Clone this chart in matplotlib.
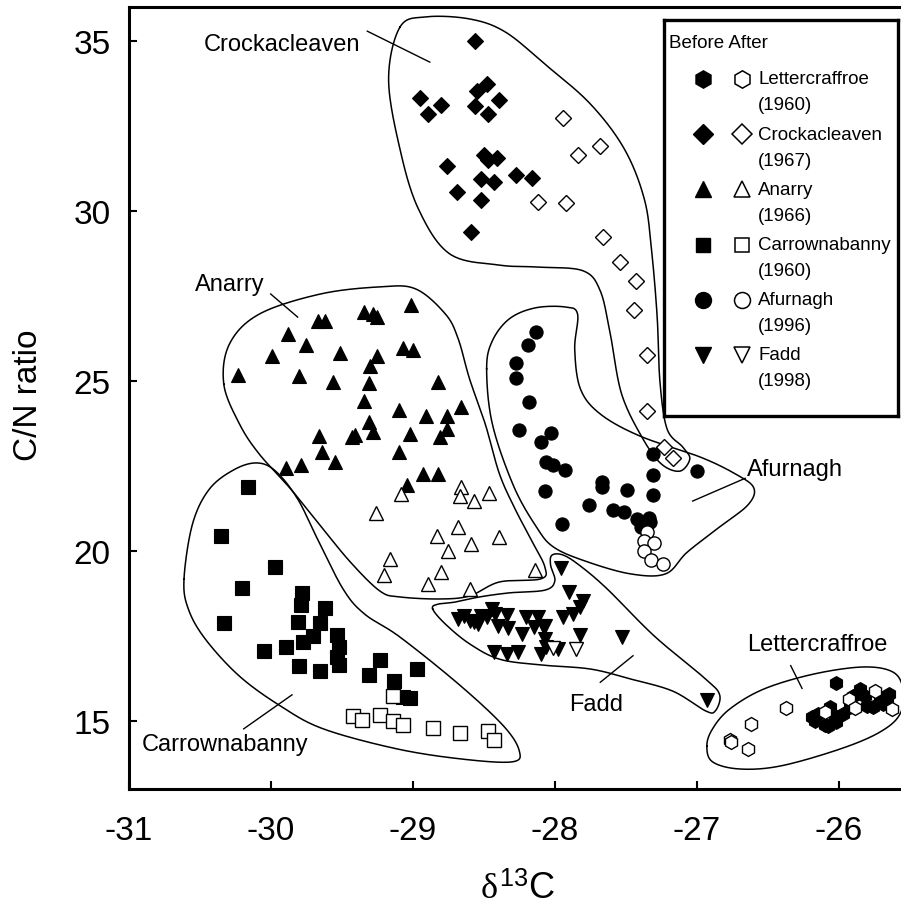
import numpy as np
import matplotlib
matplotlib.use('Agg')
import matplotlib.pyplot as plt

plt.rcParams['font.family'] = ['Liberation Sans', 'DejaVu Sans']
plt.rcParams['mathtext.fontset'] = 'custom'
plt.rcParams['mathtext.rm'] = 'Liberation Sans'
plt.rcParams['mathtext.it'] = 'Liberation Serif'
plt.rcParams['axes.unicode_minus'] = False

# ---------------- data ----------------
sites = ['Lettercraffroe', 'Crockacleaven', 'Anarry', 'Carrownabanny', 'Afurnagh', 'Fadd']
years = ['(1960)', '(1967)', '(1966)', '(1960)', '(1996)', '(1998)']
markers = ['h', 'D', '^', 's', 'o', 'v']

lett_before_x = [-26.02, -26.17, -26.10, -26.03, -25.97, -25.92, -25.85, -25.82, -25.76, -25.69,
                 -25.65, -26.06, -25.90, -25.71, -26.08, -26.19, -26.15, -25.80, -25.66, -26.02]
lett_before_y = [16.10, 15.00, 14.87, 15.15, 15.20, 15.39, 15.93, 15.72, 15.39, 15.49,
                 15.79, 15.39, 15.74, 15.69, 14.85, 15.10, 15.20, 15.44, 15.59, 14.95]
lett_after_x = [-26.37, -26.62, -26.77, -26.76, -26.64, -26.10, -25.93, -25.89, -25.75, -25.63]
lett_after_y = [15.36, 14.90, 14.44, 14.36, 14.17, 15.26, 15.64, 15.36, 15.88, 15.34]

crock_before_x = [-28.56, -28.95, -28.80, -28.89, -28.48, -28.55, -28.39, -28.56, -28.47, -28.50,
                  -28.41, -28.76, -28.52, -28.43, -28.27, -28.16, -28.69, -28.52, -28.59, -28.47]
crock_before_y = [34.98, 33.32, 33.11, 32.84, 33.73, 33.53, 33.26, 33.07, 32.84, 31.64,
                  31.54, 31.32, 30.93, 30.85, 31.06, 30.95, 30.56, 30.32, 29.36, 31.50]
crock_after_x = [-27.94, -27.68, -27.84, -28.12, -27.92, -27.66, -27.54, -27.43, -27.44, -27.35,
                 -27.35, -27.23, -27.17]
crock_after_y = [32.73, 31.91, 31.64, 30.25, 30.23, 29.22, 28.48, 27.92, 27.09, 25.76,
                 24.10, 23.04, 22.72]

anarry_before_x = [-29.01, -29.34, -29.25, -29.67, -29.62, -29.88, -29.75, -29.99, -29.51, -29.25,
                   -29.30, -29.07, -29.00, -30.23, -29.80, -29.56, -29.31, -28.82, -29.34, -29.10,
                   -28.91, -28.76, -28.66, -29.31, -29.28, -28.76, -28.81, -29.02, -29.66, -29.43,
                   -29.41, -29.10, -29.64, -29.55, -29.89, -29.79, -28.93, -28.82, -29.04, -29.28]
anarry_before_y = [27.23, 27.01, 26.86, 26.76, 26.75, 26.37, 26.05, 25.74, 25.81, 25.74,
                   25.42, 25.95, 25.90, 25.17, 25.13, 24.95, 24.92, 24.95, 24.41, 24.15,
                   23.97, 23.95, 24.22, 23.79, 23.50, 23.58, 23.35, 23.43, 23.38, 23.34,
                   23.40, 22.91, 22.91, 22.62, 22.43, 22.53, 22.26, 22.26, 21.94, 26.95]
anarry_after_x = [-28.66, -28.67, -28.57, -28.46, -29.08, -29.26, -28.68, -28.83, -28.59, -28.39,
                  -28.75, -29.16, -29.20, -28.80, -28.89, -28.60, -28.14]
anarry_after_y = [21.86, 21.60, 21.47, 21.70, 21.67, 21.11, 20.69, 20.44, 20.20, 20.39,
                  19.98, 19.76, 19.29, 19.36, 19.02, 18.87, 19.43]

carr_before_x = [-30.16, -30.35, -29.97, -30.20, -30.33, -29.78, -29.79, -29.62, -29.81, -29.65,
                 -29.77, -29.70, -29.53, -29.52, -29.53, -29.52, -29.89, -30.05, -29.80, -29.65,
                 -29.23, -29.31, -29.13, -28.97, -29.07, -29.02]
carr_before_y = [21.86, 20.42, 19.53, 18.90, 17.86, 18.75, 18.41, 18.31, 17.89, 17.86,
                 17.32, 17.48, 17.52, 17.16, 16.86, 16.64, 17.16, 17.04, 16.62, 16.47,
                 16.79, 16.34, 16.16, 16.52, 15.71, 15.67]
carr_after_x = [-29.14, -29.42, -29.36, -29.23, -29.14, -29.07, -28.86, -28.67, -28.47, -28.43]
carr_after_y = [15.74, 15.13, 15.03, 15.18, 15.00, 14.87, 14.79, 14.63, 14.71, 14.44]

afur_before_x = [-28.13, -28.19, -28.27, -28.27, -28.18, -28.25, -28.03, -28.10, -28.06, -28.01,
                 -27.93, -28.07, -27.95, -27.76, -27.67, -27.67, -27.49, -27.31, -27.31, -27.31,
                 -27.00, -27.59, -27.51, -27.42, -27.34, -27.39, -27.33]
afur_before_y = [26.42, 26.06, 25.51, 25.07, 24.38, 23.56, 23.46, 23.21, 22.60, 22.53,
                 22.38, 21.76, 20.79, 21.35, 22.03, 21.86, 21.79, 22.84, 22.23, 21.65,
                 22.33, 21.21, 21.15, 20.93, 20.95, 20.69, 20.83]
afur_after_x = [-27.35, -27.37, -27.30, -27.37, -27.32, -27.24]
afur_after_y = [20.54, 20.29, 20.23, 19.98, 19.74, 19.61]

fadd_before_x = [-27.96, -27.90, -27.80, -27.82, -27.87, -27.94, -27.82, -27.53, -26.93, -28.68,
                 -28.60, -28.54, -28.48, -28.44, -28.42, -28.34, -28.33, -28.23, -28.20, -28.12,
                 -28.08, -28.15, -28.07, -28.06, -27.98, -28.10, -28.43, -28.34, -28.26, -28.52,
                 -28.64, -28.57, -28.40, -28.07]
fadd_before_y = [19.48, 18.79, 18.51, 18.34, 18.14, 18.04, 17.52, 17.45, 15.62, 17.99,
                 17.94, 17.84, 18.04, 18.29, 18.14, 18.11, 17.72, 17.55, 18.04, 18.04,
                 17.78, 17.75, 17.40, 17.16, 17.11, 16.96, 17.01, 16.96, 17.01, 18.09,
                 18.09, 17.89, 17.78, 17.79]
fadd_after_x = [-28.01, -27.85]
fadd_after_y = [17.13, 17.11]

before_x = [lett_before_x, crock_before_x, anarry_before_x, carr_before_x, afur_before_x, fadd_before_x]
before_y = [lett_before_y, crock_before_y, anarry_before_y, carr_before_y, afur_before_y, fadd_before_y]
after_x = [lett_after_x, crock_after_x, anarry_after_x, carr_after_x, afur_after_x, fadd_after_x]
after_y = [lett_after_y, crock_after_y, anarry_after_y, carr_after_y, afur_after_y, fadd_after_y]

# hand-drawn enclosure outlines (data coordinates)
outline_lett = [(-26.93, 14.26), (-26.89, 14.76), (-26.77, 15.34), (-26.53, 15.93), (-26.18, 16.37),
                (-25.83, 16.58), (-25.62, 16.43), (-25.55, 15.93), (-25.57, 15.20), (-25.71, 14.67),
                (-25.99, 14.17), (-26.41, 13.67), (-26.70, 13.58), (-26.89, 13.79)]
outline_crock = [(-29.09, 35.40), (-28.91, 35.70), (-28.60, 35.64), (-28.35, 35.26), (-28.07, 34.31),
                 (-27.75, 33.14), (-27.51, 31.81), (-27.37, 30.34), (-27.32, 28.87), (-27.28, 26.90),
                 (-27.26, 24.96), (-27.21, 23.58), (-27.10, 23.05), (-27.05, 22.70), (-27.12, 22.34),
                 (-27.25, 22.55), (-27.38, 23.29), (-27.53, 24.61), (-27.61, 26.38), (-27.68, 27.64),
                 (-27.80, 28.23), (-28.10, 28.34), (-28.39, 28.40), (-28.74, 28.73), (-28.96, 30.05),
                 (-29.09, 31.81), (-29.17, 33.87)]
outline_anarry = [(-30.33, 24.90), (-30.29, 26.08), (-30.08, 26.96), (-29.65, 27.55), (-29.23, 27.76),
                  (-28.98, 27.70), (-28.77, 26.96), (-28.68, 26.23), (-28.60, 25.05), (-28.49, 23.73),
                  (-28.39, 22.26), (-28.28, 21.23), (-28.17, 20.35), (-28.07, 19.52), (-28.10, 19.17),
                  (-28.39, 19.08), (-28.60, 18.67), (-28.81, 18.58), (-29.09, 18.64), (-29.23, 18.81),
                  (-29.44, 19.67), (-29.67, 20.84), (-29.86, 21.82), (-30.08, 22.84), (-30.22, 23.73)]
outline_carr = [(-30.61, 19.17), (-30.55, 20.79), (-30.43, 21.82), (-30.25, 22.40), (-30.09, 22.58),
                (-29.96, 22.32), (-29.81, 21.52), (-29.67, 20.34), (-29.49, 18.87), (-29.34, 18.14),
                (-29.09, 17.46), (-28.67, 16.05), (-28.36, 14.84), (-28.25, 14.11), (-28.30, 13.79),
                (-28.65, 13.87), (-29.11, 14.17), (-29.63, 14.76), (-29.93, 15.43), (-30.22, 16.31),
                (-30.46, 17.40), (-30.58, 18.29)]
outline_afur = [(-28.48, 25.35), (-28.44, 26.17), (-28.32, 26.82), (-28.14, 27.14), (-27.93, 27.17),
                (-27.84, 26.96), (-27.86, 25.93), (-27.82, 24.76), (-27.68, 24.02), (-27.40, 23.37),
                (-26.98, 22.76), (-26.73, 22.26), (-26.60, 21.85), (-26.64, 21.35), (-26.84, 20.70),
                (-27.07, 19.95), (-27.22, 19.32), (-27.47, 19.32), (-27.79, 19.70), (-28.01, 20.11),
                (-28.13, 20.70), (-28.29, 21.90), (-28.44, 23.73)]
outline_fadd = [(-28.86, 18.29), (-28.77, 17.84), (-28.60, 17.26), (-28.39, 16.81), (-28.10, 16.64),
                (-27.75, 16.52), (-27.47, 16.23), (-27.17, 15.87), (-26.94, 15.29), (-26.87, 15.29),
                (-26.84, 15.76), (-26.94, 16.23), (-27.30, 17.49), (-27.63, 18.87), (-27.82, 19.55),
                (-27.94, 19.87), (-28.02, 19.87), (-28.03, 19.58), (-28.00, 19.11), (-28.07, 18.84),
                (-28.32, 18.76), (-28.53, 18.64), (-28.70, 18.49), (-28.82, 18.43)]
outlines = [outline_lett, outline_crock, outline_anarry, outline_carr, outline_afur, outline_fadd]

# site labels: text position and leader line (data coordinates)
label_pos = [(-26.15, 17.26), (-29.92, 34.90), (-30.29, 27.84), (-30.32, 14.31), (-26.31, 22.40), (-27.71, 15.49)]
leader_x = [(-26.34, -26.26), (-29.32, -28.88), (-30.00, -29.81), (-30.19, -29.85), (-27.03, -26.66), (-27.68, -27.45)]
leader_y = [(16.62, 15.95), (35.28, 34.37), (27.55, 26.87), (14.76, 15.76), (21.46, 22.13), (16.13, 16.91)]


def smooth_closed(pts, n=24):
    P = np.asarray(pts, dtype=float)
    N = len(P)
    t = np.linspace(0, 1, n, endpoint=False)[:, None]
    segs = []
    for i in range(N):
        p0, p1, p2, p3 = P[i - 1], P[i], P[(i + 1) % N], P[(i + 2) % N]
        segs.append(0.5 * (2 * p1 + (-p0 + p2) * t + (2 * p0 - 5 * p1 + 4 * p2 - p3) * t ** 2
                           + (-p0 + 3 * p1 - 3 * p2 + p3) * t ** 3))
    out = np.vstack(segs)
    return np.vstack([out, out[:1]])


# ---------------- figure ----------------
W, H = 901, 920
fig = plt.figure(figsize=(W / 100, H / 100), dpi=100)
ax_l, ax_r, ax_b, ax_t = 128.6, 901.5, 789.7, 7.7
ax = fig.add_axes([ax_l / W, 1 - ax_b / H, (ax_r - ax_l) / W, (ax_b - ax_t) / H])
ax.set_xlim(-31, -25.56)
ax.set_ylim(13, 36)

for ol in outlines:
    c = smooth_closed(ol)
    ax.plot(c[:, 0], c[:, 1], color='black', lw=1.1, zorder=1, clip_on=False)

msize = {'h': 10.0, 'D': 8.2, '^': 10.0, 's': 9.5, 'o': 9.5, 'v': 10.0}
for m, bx, by, axx, ayy in zip(markers, before_x, before_y, after_x, after_y):
    ax.plot(bx, by, ls='none', marker=m, ms=msize[m], mfc='black', mec='black', mew=0.8, zorder=2)
    ax.plot(axx, ayy, ls='none', marker=m, ms=msize[m], mfc='white', mec='black', mew=1.0, zorder=3)

for name, (lx, ly), lnx, lny in zip(sites, label_pos, leader_x, leader_y):
    ax.text(lx, ly, name, fontsize=17, ha='center', va='center', zorder=4)
    ax.plot(lnx, lny, color='black', lw=1.0, zorder=4)

for s in ['left', 'bottom', 'top']:
    ax.spines[s].set_linewidth(2.2)
ax.spines['right'].set_visible(False)

ax.set_xticks([-31, -30, -29, -28, -27, -26])
ax.set_xticklabels(['-31', '-30', '-29', '-28', '-27', '-26'])
ax.set_yticks([15, 20, 25, 30, 35])
ax.tick_params(direction='in', length=6, width=1.5, labelsize=24)
ax.tick_params(axis='x', pad=19)
ax.tick_params(axis='y', pad=13)

ax.set_ylabel('C/N ratio', fontsize=24)
ax.yaxis.set_label_coords((44 - ax_l) / (ax_r - ax_l), (ax_b - 395) / (ax_b - ax_t))
ax.set_xlabel(r'$\delta^{\mathrm{13}}\mathrm{C}$', fontsize=26)
ax.xaxis.set_label_coords((518 - ax_l) / (ax_r - ax_l), (ax_b - 872) / (ax_b - ax_t))

# ---------------- legend box ----------------
lg_l, lg_r, lg_t, lg_b = 664, 898, 21, 417
lax = fig.add_axes([lg_l / W, 1 - lg_b / H, (lg_r - lg_l) / W, (lg_b - lg_t) / H])
lax.set_xlim(0, lg_r - lg_l)
lax.set_ylim(lg_b - lg_t, 0)
lax.set_xticks([])
lax.set_yticks([])
for s in lax.spines.values():
    s.set_linewidth(2.4)
lax.text(5, 22, 'Before After', fontsize=13.5, ha='left', va='center')
leg_ms = {'h': 12.5, 'D': 10.0, '^': 12.0, 's': 9.5, 'o': 11.5, 'v': 12.0}
for i, (m, name, yr) in enumerate(zip(markers, sites, years)):
    yrow = 59 + i * 55.2
    lax.plot([38.7], [yrow], ls='none', marker=m, ms=leg_ms[m], mfc='black', mec='black')
    lax.plot([77.7], [yrow], ls='none', marker=m, ms=leg_ms[m], mfc='white', mec='black', mew=1.1)
    lax.text(94, yrow, name, fontsize=13.5, ha='left', va='center')
    lax.text(94, yrow + 26, yr, fontsize=13.5, ha='left', va='center')

fig.savefig('out.png', dpi=100)
